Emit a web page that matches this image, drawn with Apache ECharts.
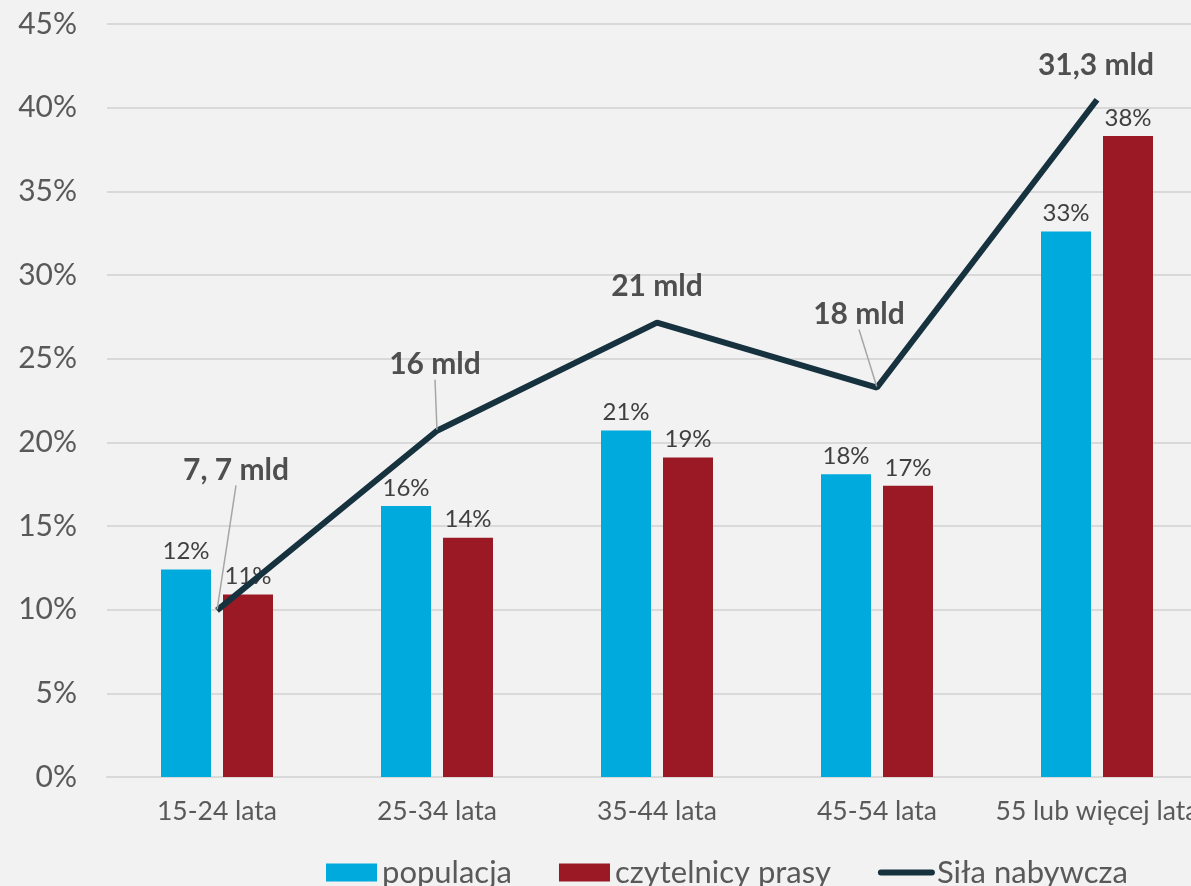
<!DOCTYPE html>
<html>
<head>
<meta charset="utf-8">
<script src="https://cdn.jsdelivr.net/npm/echarts@6/dist/echarts.min.js"></script>
<style>
  html, body { margin: 0; padding: 0; background: #f2f2f2; }
  #chart { width: 1191px; height: 886px; }
</style>
</head>
<body>
<div id="chart"></div>
<script>
// Age groups
const categories = ['15-24 lata', '25-34 lata', '35-44 lata', '45-54 lata', '55 lub więcej lata'];
// Share of population in each age group (%)
const populacja = [12.4, 16.2, 20.7, 18.1, 32.6];
// Share of press readers in each age group (%)
const czytelnicy = [10.9, 14.3, 19.1, 17.4, 38.3];
// Purchasing power, billions PLN
const silaNabywcza = [7.7, 16, 21, 18, 31.3];
const silaLabels = ['7, 7 mld', '16 mld', '21 mld', '18 mld', '31,3 mld'];
// Percent axis ticks
const yTicks = [0, 5, 10, 15, 20, 25, 30, 35, 40, 45];

// Label nudges for the purchasing-power labels (dx, dy in px) and whether a leader is drawn
const lineLabelShift = [[19, -119], [-2, -45], [0, -15], [-18, -52], [-1, -13]];
const lineLabelLeader = [true, true, false, true, false];

const chart = echarts.init(document.getElementById('chart'), null, { renderer: 'canvas' });

const FONT = 'Lato, "Open Sans", sans-serif';
const LINE_COLOR = '#17323f';

chart.setOption({
  backgroundColor: '#f2f2f2',
  animation: false,
  textStyle: { fontFamily: FONT },
  grid: { left: 107, top: 24, width: 1100, bottom: 109, outerBoundsMode: 'none', containLabel: false },
  legend: {
    left: 321,
    top: 852,
    itemWidth: 51,
    itemHeight: 18,
    itemGap: 47,
    textStyle: { fontFamily: FONT, fontSize: 31, color: '#595959' },
    data: [
      { name: 'populacja', icon: 'rect' },
      { name: 'czytelnicy prasy', icon: 'rect' },
      // plain thick line marker, no dot
      {
        name: 'Siła nabywcza',
        itemStyle: { color: 'rgba(0,0,0,0)', borderWidth: 0, opacity: 0 },
        lineStyle: { color: LINE_COLOR, width: 6, cap: 'round' }
      }
    ]
  },
  xAxis: {
    type: 'category',
    data: categories,
    axisLine: { show: true, lineStyle: { color: '#d9d9d9', width: 2 } },
    axisTick: { show: false },
    axisLabel: { color: '#595959', fontSize: 26.5, margin: 21, fontFamily: FONT, interval: 0 }
  },
  yAxis: [
    {
      type: 'value',
      min: yTicks[0],
      max: yTicks[yTicks.length - 1],
      interval: yTicks[1] - yTicks[0],
      axisLine: { show: false },
      axisTick: { show: false },
      splitLine: { lineStyle: { color: '#d9d9d9', width: 2 } },
      axisLabel: { color: '#595959', fontSize: 30, margin: 30, fontFamily: FONT, formatter: '{value}%' }
    },
    {
      // hidden scale for purchasing power (billions)
      type: 'value',
      min: 0,
      max: 34.8,
      show: false,
      splitLine: { show: false }
    }
  ],
  series: [
    {
      name: 'populacja',
      type: 'bar',
      data: populacja,
      barWidth: 50,
      barGap: '24%',
      itemStyle: { color: '#00aadc' },
      label: {
        show: true, position: 'top', distance: 6,
        color: '#404040', fontSize: 24, fontFamily: FONT,
        formatter: p => Math.round(p.value) + '%'
      },
      z: 2
    },
    {
      name: 'czytelnicy prasy',
      type: 'bar',
      data: czytelnicy,
      barWidth: 50,
      itemStyle: { color: '#9a1924' },
      label: {
        show: true, position: 'top', distance: 6,
        color: '#404040', fontSize: 24, fontFamily: FONT,
        formatter: p => Math.round(p.value) + '%'
      },
      z: 2
    },
    {
      name: 'Siła nabywcza',
      type: 'line',
      yAxisIndex: 1,
      data: silaNabywcza,
      symbol: 'none',
      lineStyle: { color: LINE_COLOR, width: 6 },
      itemStyle: { color: LINE_COLOR },
      z: 5
    },
    {
      // value labels of the purchasing-power line, with grey leader lines
      name: 'Siła nabywcza etykiety',
      type: 'scatter',
      yAxisIndex: 1,
      data: silaNabywcza.map((v, i) => ({
        value: v,
        labelLine: { show: lineLabelLeader[i] }
      })),
      symbolSize: 2,
      itemStyle: { color: 'rgba(0,0,0,0)' },
      silent: true,
      label: {
        show: true,
        position: 'top',
        distance: 5,
        color: '#262626',
        fontSize: 30,
        fontWeight: 'bold',
        fontFamily: FONT,
        formatter: p => silaLabels[p.dataIndex]
      },
      labelLine: { show: true, lineStyle: { color: '#a6a6a6', width: 1.5 } },
      labelLayout: p => ({ dx: lineLabelShift[p.dataIndex][0], dy: lineLabelShift[p.dataIndex][1] }),
      z: 6
    }
  ]
});
</script>
</body>
</html>
